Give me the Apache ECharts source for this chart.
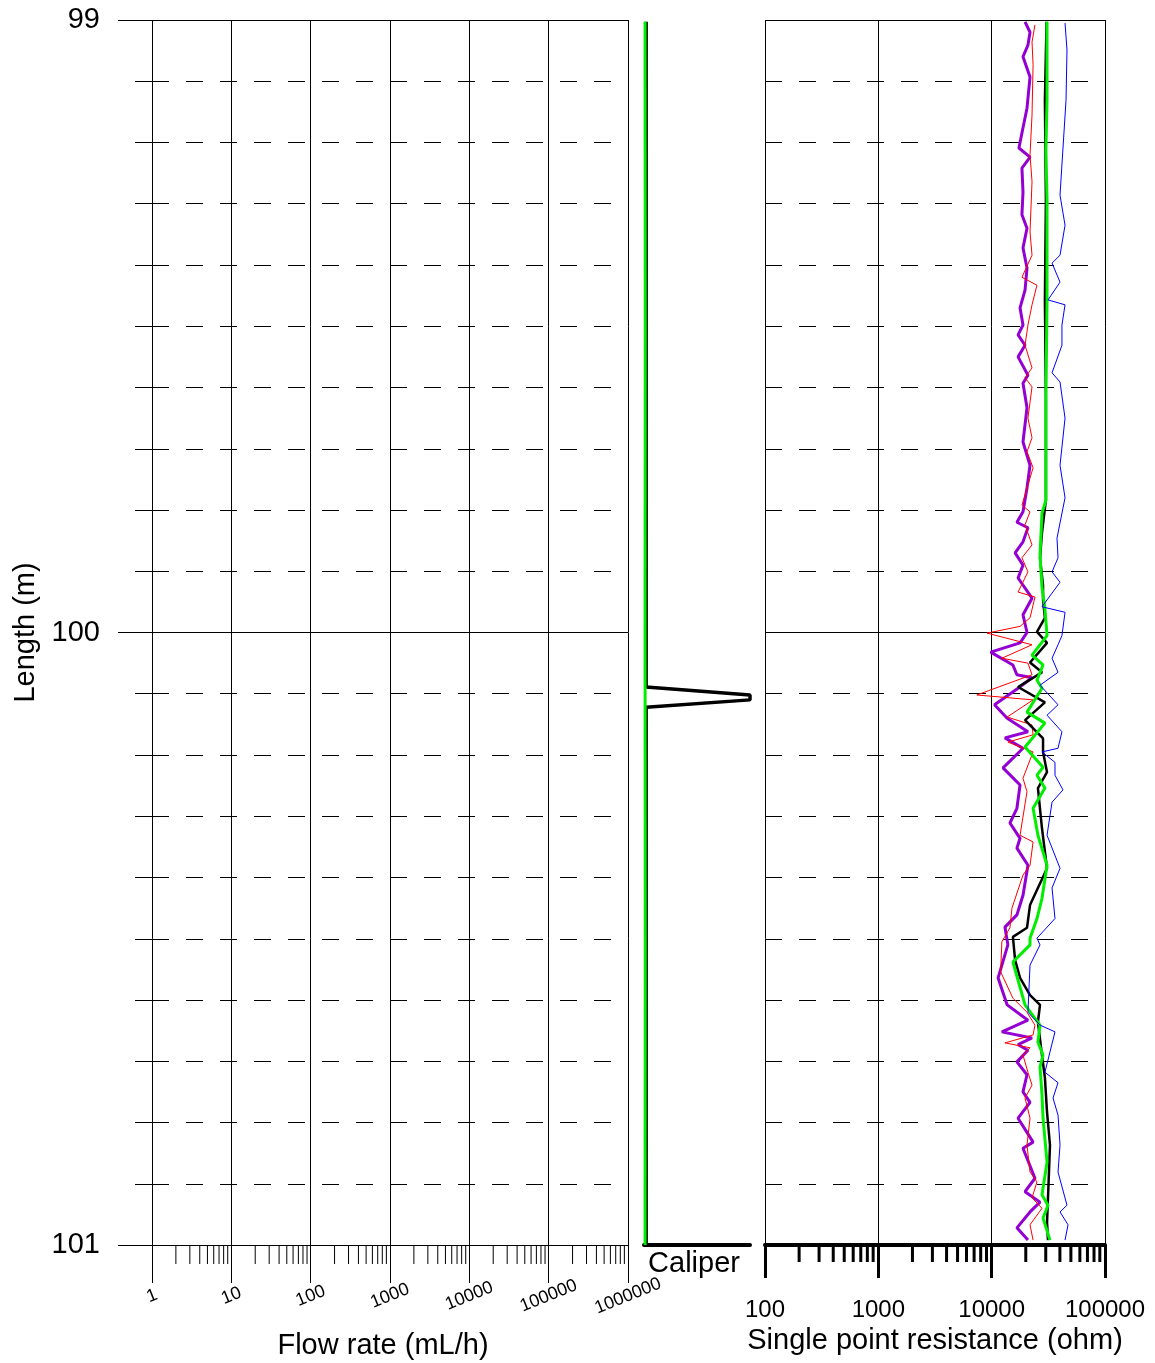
<!DOCTYPE html>
<html>
<head>
<meta charset="utf-8">
<title>Borehole log</title>
<script src="https://cdn.jsdelivr.net/npm/echarts@6/dist/echarts.min.js"></script>
<style>
html, body { margin: 0; padding: 0; background: #fff; }
#chart { width: 1155px; height: 1363px; }
</style>
</head>
<body>
<div id="chart"></div>
<script>
// depth runs down the vertical axis, every trace is [value, depth]
const depthMin = 99;
const depthMax = 101;

// caliper track
const caliper = [[0.2, 99.003], [0.2, 100.089], [10, 100.102], [10, 100.110], [0.2, 100.122], [0.2, 101]];
const caliperRef = [[0.1, 99.003], [0.12, 99.5], [0.1, 100.0], [0.12, 100.5], [0.1, 101]];

// single point resistance (ohm)
const sprPurple = [
    [19700, 99.003], [21800, 99.020], [20900, 99.041], [18900, 99.060], [21800, 99.093], [20500, 99.144],
    [18900, 99.176], [17400, 99.209], [21800, 99.224], [18500, 99.242], [18900, 99.281], [18500, 99.318],
    [20500, 99.340], [18900, 99.372], [20500, 99.405], [19700, 99.441], [17800, 99.470], [18900, 99.498],
    [17100, 99.514], [19700, 99.531], [17100, 99.550], [20900, 99.580], [18900, 99.593], [20500, 99.633],
    [18900, 99.689], [21800, 99.727], [20500, 99.764], [18900, 99.803], [16700, 99.820], [20900, 99.829],
    [18900, 99.852], [16100, 99.870], [18900, 99.890], [17100, 99.911], [22700, 99.944], [18900, 99.971],
    [20500, 100.000], [17800, 100.017], [9800, 100.032], [15400, 100.053], [16700, 100.069], [22700, 100.074],
    [17100, 100.091], [10600, 100.118], [13700, 100.140], [20900, 100.162], [13100, 100.172], [18900, 100.189],
    [12600, 100.221], [17800, 100.249], [16700, 100.287], [14500, 100.311], [17800, 100.336], [16700, 100.352],
    [20900, 100.380], [18900, 100.429], [16700, 100.461], [13100, 100.481], [13900, 100.510], [11400, 100.564],
    [13700, 100.608], [20900, 100.633], [12300, 100.652], [22700, 100.662], [17100, 100.673], [20900, 100.682],
    [16700, 100.701], [20500, 100.722], [18900, 100.750], [21800, 100.767], [17100, 100.793], [23200, 100.832],
    [18900, 100.842], [24100, 100.891], [19700, 100.913], [26700, 100.930], [21800, 100.946], [16700, 100.972],
    [20900, 100.992]
];
const sprRed = [
    [24100, 99.008], [22700, 99.036], [23200, 99.073], [22700, 99.155], [21800, 99.220], [22700, 99.264],
    [21800, 99.346], [22700, 99.384], [18500, 99.420], [25100, 99.433], [22700, 99.465], [20900, 99.498],
    [19700, 99.531], [22700, 99.568], [19700, 99.584], [22700, 99.599], [20900, 99.650], [22700, 99.682],
    [20500, 99.705], [23200, 99.731], [18500, 99.792], [21800, 99.803], [19700, 99.824], [22700, 99.857],
    [18500, 99.878], [20900, 99.901], [17100, 99.934], [24100, 99.942], [21800, 99.976], [17800, 99.990],
    [9100, 100.001], [22700, 100.020], [12300, 100.042], [20900, 100.050], [22700, 100.069], [7400, 100.102],
    [23200, 100.110], [13700, 100.138], [22700, 100.151], [23200, 100.167], [13900, 100.179], [23200, 100.195],
    [18900, 100.238], [20500, 100.260], [17800, 100.331], [23200, 100.342], [21800, 100.380], [18900, 100.396],
    [15100, 100.450], [14500, 100.482], [12300, 100.505], [12000, 100.554], [15400, 100.597], [20500, 100.620],
    [24100, 100.641], [23200, 100.657], [13100, 100.670], [21800, 100.678], [18900, 100.690], [20900, 100.718],
    [22700, 100.739], [19700, 100.760], [21800, 100.793], [20500, 100.837], [21800, 100.881], [25100, 100.897],
    [22700, 100.923], [27800, 100.940], [21800, 100.967], [23200, 100.992]
];
const sprBlack = [
    [30500, 99.003], [29500, 99.131], [30100, 99.294], [29500, 99.457], [30100, 99.620], [30100, 99.784],
    [27800, 99.837], [26700, 99.879], [28400, 99.923], [28400, 99.947], [29500, 99.976], [25100, 99.999],
    [30800, 100.017], [21800, 100.049], [27800, 100.065], [17100, 100.089], [29500, 100.114], [19700, 100.143],
    [28400, 100.173], [28400, 100.195], [30800, 100.228], [25600, 100.254], [27800, 100.320], [30800, 100.385],
    [21800, 100.445], [20500, 100.482], [15400, 100.497], [16100, 100.535], [17800, 100.564], [21800, 100.592],
    [26700, 100.608], [25600, 100.636], [27800, 100.690], [29500, 100.727], [30800, 100.783], [32700, 100.837],
    [31400, 100.923], [30800, 100.963], [31400, 100.992]
];
const sprGreen = [
    [30800, 99.003], [30800, 99.131], [30100, 99.212], [30800, 99.294], [30800, 99.457], [30100, 99.620],
    [30100, 99.784], [27800, 99.805], [26700, 99.873], [27800, 99.927], [29500, 99.960], [30800, 100.005],
    [22700, 100.037], [28400, 100.053], [25100, 100.078], [27800, 100.091], [20500, 100.130], [29500, 100.148],
    [19700, 100.187], [28400, 100.220], [25100, 100.233], [29500, 100.254], [23200, 100.287], [25600, 100.331],
    [30800, 100.380], [27800, 100.434], [25100, 100.467], [21800, 100.499], [21800, 100.510], [15400, 100.538],
    [19700, 100.608], [26700, 100.641], [25600, 100.669], [28400, 100.690], [26700, 100.709], [27800, 100.755],
    [28400, 100.793], [30800, 100.865], [27800, 100.918], [31400, 100.935], [28400, 100.956], [32700, 100.992]
];
const sprBlue = [
    [44400, 99.005], [46200, 99.049], [45300, 99.131], [42600, 99.209], [40100, 99.286], [44400, 99.335],
    [40100, 99.384], [34100, 99.397], [40100, 99.428], [31400, 99.457], [44400, 99.465], [41700, 99.498],
    [41700, 99.531], [34100, 99.576], [40100, 99.591], [44400, 99.650], [40100, 99.727], [44400, 99.780],
    [37700, 99.846], [38500, 99.878], [34100, 99.901], [40100, 99.918], [27800, 99.958], [44400, 99.967],
    [41700, 100.005], [38500, 100.020], [34100, 100.042], [38500, 100.065], [26700, 100.086], [38500, 100.118],
    [30800, 100.135], [41700, 100.162], [38500, 100.189], [27800, 100.195], [36200, 100.212], [36200, 100.233],
    [42600, 100.257], [34100, 100.277], [30800, 100.331], [40100, 100.385], [34100, 100.417], [36200, 100.467],
    [25100, 100.499], [26700, 100.510], [21800, 100.543], [20900, 100.620], [26700, 100.641], [36200, 100.652],
    [29500, 100.718], [38500, 100.735], [34800, 100.760], [38500, 100.788], [40100, 100.837], [38500, 100.881],
    [46200, 100.935], [40100, 100.946], [47200, 100.967], [44400, 100.992]
];

const font = 'Liberation Sans, Arial, sans-serif';

// 2..9 per decade, the log axis itself has no usable minor ticks
function minorLogTicks(fromExp, toExp) {
    const out = [];
    for (let e = fromExp; e < toExp; e++) {
        for (let m = 2; m <= 9; m++) out.push(m * Math.pow(10, e));
    }
    return out;
}

function tickSeries(axisIndex, values, len, width) {
    return {
        type: 'custom',
        xAxisIndex: axisIndex,
        yAxisIndex: axisIndex,
        silent: true,
        clip: false,
        z: 6,
        data: values.map(v => [v, depthMax]),
        renderItem(params, api) {
            const p = api.coord([api.value(0), api.value(1)]);
            return {
                type: 'line',
                shape: { x1: p[0], y1: p[1], x2: p[0], y2: p[1] + len },
                style: { stroke: '#000', lineWidth: width }
            };
        }
    };
}

function trace(data, color, width, z) {
    return {
        type: 'line',
        xAxisIndex: 2,
        yAxisIndex: 2,
        data: data,
        showSymbol: false,
        symbol: 'none',
        silent: true,
        z: z,
        lineStyle: { color: color, width: width }
    };
}

function depthAxis(grid, withTicks) {
    return {
        type: 'value',
        gridIndex: grid,
        inverse: true,
        min: depthMin,
        max: depthMax,
        interval: 1,
        axisLine: { show: false },
        axisTick: { show: withTicks, length: 34, lineStyle: { color: '#000', width: 1 } },
        minorTick: { show: withTicks, splitNumber: 10, length: 17, lineStyle: { color: '#000', width: 1 } },
        splitLine: { show: true, lineStyle: { color: '#000', width: 1 } },
        minorSplitLine: { show: true, lineStyle: { color: '#000', width: 1, type: [17, 17] } },
        axisLabel: { show: withTicks, fontSize: 29, color: '#000', margin: 52, fontFamily: font }
    };
}

const chart = echarts.init(document.getElementById('chart'));

const leftY = depthAxis(0, true);
leftY.name = 'Length (m)';
leftY.nameLocation = 'middle';
leftY.nameGap = 112;
leftY.nameTextStyle = { fontSize: 29, color: '#000', fontFamily: font };

const calY = depthAxis(1, false);
calY.show = false;

chart.setOption({
    backgroundColor: '#fff',
    animation: false,
    grid: [
        { left: 152, width: 476, top: 20, height: 1225, outerBoundsMode: 'none' },
        { left: 644, width: 106, top: 20, height: 1225, outerBoundsMode: 'none' },
        { left: 765, width: 340, top: 20, height: 1225, outerBoundsMode: 'none' }
    ],
    xAxis: [
        {
            type: 'log',
            gridIndex: 0,
            logBase: 10,
            min: 1,
            max: 1000000,
            splitNumber: 6,
            axisLine: { show: true, lineStyle: { color: '#000', width: 1 } },
            axisTick: { show: true, length: 38, lineStyle: { color: '#000', width: 1 } },
            splitLine: { show: true, lineStyle: { color: '#000', width: 1 } },
            axisLabel: {
                fontSize: 18, color: '#000', fontFamily: font, rotate: 22, margin: 51,
                align: 'center', verticalAlign: 'middle',
                showMinLabel: true, showMaxLabel: true,
                formatter: v => String(Math.round(v))
            },
            name: 'Flow rate (mL/h)',
            nameLocation: 'middle',
            nameGap: 86,
            nameTextStyle: { fontSize: 29, color: '#000', fontFamily: font, padding: [0, 14, 0, 0] }
        },
        {
            type: 'value',
            gridIndex: 1,
            min: 0,
            max: 10,
            axisLine: { show: true, lineStyle: { color: '#000', width: 4 } },
            axisTick: { show: false },
            splitLine: { show: false },
            axisLabel: { show: false },
            name: 'Caliper',
            nameLocation: 'middle',
            nameGap: 4,
            nameTextStyle: { fontSize: 29, color: '#000', fontFamily: font, padding: [0, 6, 0, 0] }
        },
        {
            type: 'log',
            gridIndex: 2,
            logBase: 10,
            min: 100,
            max: 100000,
            splitNumber: 3,
            axisLine: { show: true, lineStyle: { color: '#000', width: 4 } },
            axisTick: { show: true, length: 33, lineStyle: { color: '#000', width: 3 } },
            splitLine: { show: true, lineStyle: { color: '#000', width: 1 } },
            axisLabel: {
                fontSize: 24, color: '#000', fontFamily: font, margin: 53,
                showMinLabel: true, showMaxLabel: true,
                formatter: v => String(Math.round(v))
            },
            name: 'Single point resistance (ohm)',
            nameLocation: 'middle',
            nameGap: 80,
            nameTextStyle: { fontSize: 29, color: '#000', fontFamily: font }
        }
    ],
    yAxis: [leftY, calY, depthAxis(2, false)],
    series: [
        tickSeries(0, minorLogTicks(0, 6), 19, 1),
        tickSeries(2, minorLogTicks(2, 5), 17, 3),
        {
            type: 'line', xAxisIndex: 1, yAxisIndex: 1, data: caliper,
            showSymbol: false, symbol: 'none', silent: true, z: 3,
            lineStyle: { color: '#000', width: 3.5 }
        },
        {
            type: 'line', xAxisIndex: 1, yAxisIndex: 1, data: caliperRef,
            showSymbol: false, symbol: 'none', silent: true, z: 4,
            lineStyle: { color: '#00ee00', width: 3 }
        },
        trace(sprPurple, '#9400d3', 3, 3),
        trace(sprRed, '#ff0000', 1, 4),
        trace(sprBlack, '#000000', 2.5, 5),
        trace(sprGreen, '#00ee00', 3, 6),
        trace(sprBlue, '#0000ff', 1, 7)
    ]
});
</script>
</body>
</html>
